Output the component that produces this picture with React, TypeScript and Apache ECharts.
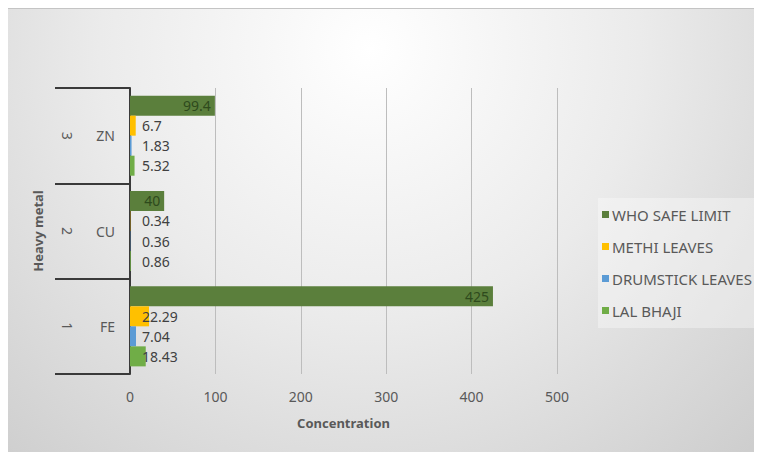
import React, { useEffect, useRef } from "react";
import * as echarts from "echarts";

const metals = ["FE", "CU", "ZN"];
const groupNumbers = ["1", "2", "3"];
const whoSafeLimit = [425, 40, 99.4];
const methiLeaves = [22.29, 0.34, 6.7];
const drumstickLeaves = [7.04, 0.36, 1.83];
const lalBhaji = [18.43, 0.86, 5.32];
const xTicks = { min: 0, max: 500, interval: 100 };

const FONT = "'Noto Sans', 'Open Sans', sans-serif";
const TXT = "#595959";

export default function App() {
  const ref = useRef<HTMLDivElement>(null);
  useEffect(() => {
    document.body.style.overflow = "hidden";
    const chart = echarts.init(ref.current!, null, { renderer: "svg" });
    const smallLabel = {
      show: true,
      position: "insideLeft",
      distance: 12,
      color: "#404040",
      fontSize: 14,
      fontFamily: FONT,
    };
    chart.setOption({
      animation: false,
      backgroundColor: {
        type: "radial",
        x: 362,
        y: 40,
        r: 600,
        global: true,
        colorStops: [
          { offset: 0, color: "#ffffff" },
          { offset: 0.45, color: "#ebebeb" },
          { offset: 1, color: "#c9c9c9" },
        ],
      },
      textStyle: { fontFamily: FONT },
      grid: { left: 122, right: 205, top: 79, bottom: 78 },
      legend: {
        orient: "vertical",
        left: 590,
        top: 189,
        width: 164,
        padding: [9, 10, 10, 4],
        backgroundColor: "rgba(255,255,255,0.35)",
        itemWidth: 7,
        itemHeight: 7,
        itemGap: 17,
        icon: "rect",
        data: ["WHO SAFE LIMIT", "METHI LEAVES", "DRUMSTICK LEAVES", "LAL BHAJI"],
        textStyle: { color: TXT, fontSize: 15, fontFamily: FONT, padding: [0, 0, 0, -2] },
      },
      xAxis: {
        type: "value",
        min: xTicks.min,
        max: xTicks.max,
        interval: xTicks.interval,
        name: "Concentration",
        nameLocation: "middle",
        nameGap: 42,
        nameTextStyle: { color: TXT, fontSize: 13, fontWeight: "bold", fontFamily: FONT },
        axisLine: { show: false },
        axisTick: { show: false },
        axisLabel: { color: TXT, fontSize: 14, margin: 15, fontFamily: FONT },
        splitLine: { show: true, lineStyle: { color: "#bdbdbd", width: 1 } },
      },
      yAxis: [
        {
          type: "category",
          data: metals,
          name: "Heavy metal",
          nameLocation: "middle",
          nameRotate: 90,
          nameGap: 86,
          nameTextStyle: { color: TXT, fontSize: 13, fontWeight: "bold", fontFamily: FONT },
          axisLine: { show: true, lineStyle: { color: "#3a3a3a", width: 2 } },
          axisTick: { show: true, length: 75, lineStyle: { color: "#3a3a3a", width: 2 } },
          axisLabel: { color: TXT, fontSize: 14, margin: 15, fontFamily: FONT },
        },
        {
          type: "category",
          data: groupNumbers,
          position: "left",
          axisLine: { show: false },
          axisTick: { show: false },
          axisLabel: { color: TXT, fontSize: 14, margin: 56, rotate: -90, fontFamily: FONT },
        },
      ],
      series: [
        {
          name: "WHO SAFE LIMIT",
          type: "bar",
          data: whoSafeLimit,
          itemStyle: { color: "#5b7f3c" },
          barGap: "0%",
          barCategoryGap: "16%",
          label: {
            show: true,
            position: "insideRight",
            distance: 4,
            color: "#2e4a1c",
            fontSize: 14,
            fontFamily: FONT,
          },
        },
        {
          name: "METHI LEAVES",
          type: "bar",
          data: methiLeaves,
          itemStyle: { color: "#ffc000" },
          label: smallLabel,
        },
        {
          name: "DRUMSTICK LEAVES",
          type: "bar",
          data: drumstickLeaves,
          itemStyle: { color: "#5b9bd5" },
          label: smallLabel,
        },
        {
          name: "LAL BHAJI",
          type: "bar",
          data: lalBhaji,
          itemStyle: { color: "#70ad47" },
          label: smallLabel,
        },
      ],
    });
    return () => chart.dispose();
  }, []);
  return (
    <div
      ref={ref}
      style={{ width: 754, height: 443, borderTop: "1px solid #c4c4c4" }}
    />
  );
}
